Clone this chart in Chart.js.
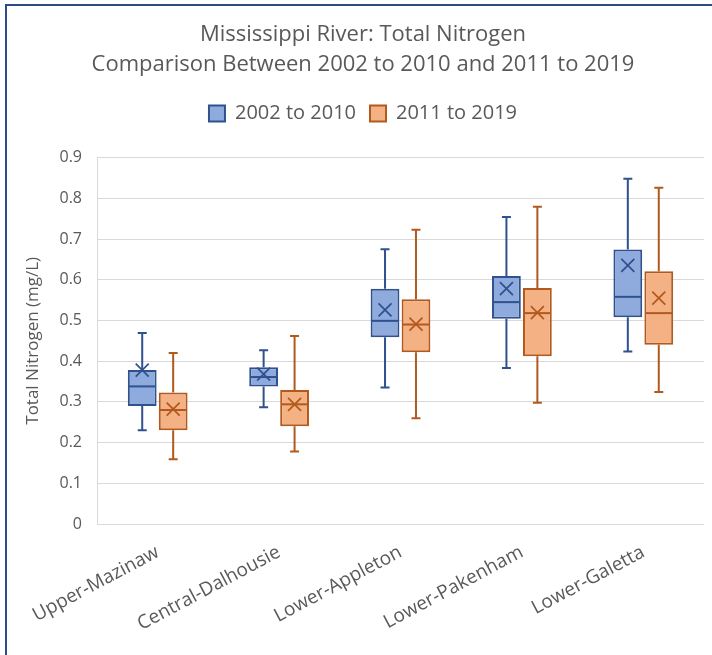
<!DOCTYPE html>
<html>
<head>
<meta charset="utf-8">
<script src="https://cdn.jsdelivr.net/npm/chart.js@4.4.1/dist/chart.umd.min.js"></script>
<style>
  html, body { margin: 0; padding: 0; background: #fff; }
  #wrap { position: absolute; left: 0; top: 0; width: 712px; height: 655px; overflow: hidden; }
  #frame { position: absolute; left: 5px; top: 4px; right: -4px; bottom: -4px;
           border-top: 2px solid #2f4b87; border-left: 2px solid #2f4b87; }
  canvas { position: absolute; left: 0; top: 0; }
</style>
</head>
<body>
<div id="wrap">
  <div id="frame"></div>
  <canvas id="boxChart" width="712" height="655"></canvas>
</div>
<script>
// sites along the river
const categories = ["Upper-Mazinaw", "Central-Dalhousie", "Lower-Appleton", "Lower-Pakenham", "Lower-Galetta"];
const seriesNames = ["2002 to 2010", "2011 to 2019"];
const yTicks = [0, 0.1, 0.2, 0.3, 0.4, 0.5, 0.6, 0.7, 0.8, 0.9];

// 2002 to 2010 (mg/L)
const minEarly  = [0.230, 0.287, 0.335, 0.383, 0.424];
const q1Early   = [0.290, 0.338, 0.459, 0.504, 0.508];
const medEarly  = [0.338, 0.361, 0.499, 0.545, 0.558];
const q3Early   = [0.378, 0.385, 0.578, 0.609, 0.674];
const maxEarly  = [0.469, 0.427, 0.675, 0.754, 0.848];
const meanEarly = [0.378, 0.368, 0.526, 0.578, 0.635];

// 2011 to 2019 (mg/L)
const minLate  = [0.159, 0.178, 0.260, 0.298, 0.324];
const q1Late   = [0.230, 0.240, 0.422, 0.412, 0.440];
const medLate  = [0.280, 0.294, 0.490, 0.518, 0.518];
const q3Late   = [0.323, 0.329, 0.552, 0.580, 0.621];
const maxLate  = [0.420, 0.462, 0.723, 0.779, 0.826];
const meanLate = [0.282, 0.294, 0.491, 0.519, 0.555];

const textColor = "#595959";
Chart.defaults.font.family = "'Open Sans', sans-serif";
Chart.defaults.color = textColor;

function makeSeries(label, q1, q3, stats, fill, line) {
  return {
    label,
    data: q1.map((v, i) => [v, q3[i]]),
    stats,
    backgroundColor: fill,
    borderColor: line,
    borderWidth: 2,
    borderSkipped: false,
    categoryPercentage: 0.51,
    barPercentage: 0.93
  };
}

// whiskers, median line and mean cross, placed with the chart's own scales
const boxMarks = {
  id: "boxMarks",
  beforeDatasetsDraw(chart) {
    const { ctx } = chart;
    const y = chart.scales.y;
    chart.data.datasets.forEach((ds, di) => {
      const meta = chart.getDatasetMeta(di);
      ctx.save();
      ctx.strokeStyle = ds.borderColor;
      ctx.lineWidth = 2;
      meta.data.forEach((bar, i) => {
        const s = ds.stats;
        const cap = 4.5;
        const pairs = [[s.q3[i], s.max[i]], [s.q1[i], s.min[i]]];
        pairs.forEach(([from, to]) => {
          const y0 = y.getPixelForValue(from), y1 = y.getPixelForValue(to);
          ctx.beginPath();
          ctx.moveTo(bar.x, y0);
          ctx.lineTo(bar.x, y1);
          ctx.moveTo(bar.x - cap, y1);
          ctx.lineTo(bar.x + cap, y1);
          ctx.stroke();
        });
      });
      ctx.restore();
    });
  },
  afterDatasetsDraw(chart) {
    const { ctx } = chart;
    const y = chart.scales.y;
    chart.data.datasets.forEach((ds, di) => {
      const meta = chart.getDatasetMeta(di);
      ctx.save();
      ctx.strokeStyle = ds.borderColor;
      meta.data.forEach((bar, i) => {
        const s = ds.stats;
        const half = bar.width / 2 - 1;
        const ym = y.getPixelForValue(s.med[i]);
        ctx.lineWidth = 2;
        ctx.beginPath();
        ctx.moveTo(bar.x - half, ym);
        ctx.lineTo(bar.x + half, ym);
        ctx.stroke();
        const yx = y.getPixelForValue(s.mean[i]);
        const r = 6.5;
        ctx.lineWidth = 1.75;
        ctx.beginPath();
        ctx.moveTo(bar.x - r, yx - r);
        ctx.lineTo(bar.x + r, yx + r);
        ctx.moveTo(bar.x - r, yx + r);
        ctx.lineTo(bar.x + r, yx - r);
        ctx.stroke();
      });
      ctx.restore();
    });
  }
};

// extra room under the legend, and title/legend centred a bit right like the original
const headerTweaks = {
  id: "headerTweaks",
  beforeInit(chart) {
    const fit = chart.legend.fit;
    chart.legend.fit = function () {
      fit.call(this);
      this.height += 24;
    };
  },
  afterLayout(chart) {
    [chart.titleBlock, chart.legend].forEach(b => {
      if (!b) return;
      b.left += 7;
      b.right += 7;
    });
  }
};

new Chart(document.getElementById("boxChart"), {
  type: "bar",
  data: {
    labels: categories,
    datasets: [
      makeSeries(seriesNames[0], q1Early, q3Early,
        { min: minEarly, q1: q1Early, med: medEarly, q3: q3Early, max: maxEarly, mean: meanEarly },
        "#8faadc", "#2f528f"),
      makeSeries(seriesNames[1], q1Late, q3Late,
        { min: minLate, q1: q1Late, med: medLate, q3: q3Late, max: maxLate, mean: meanLate },
        "#f4b183", "#b25a1e")
    ]
  },
  options: {
    responsive: false,
    animation: false,
    layout: { padding: { top: 5, left: 8, right: 8, bottom: 0 } },
    plugins: {
      title: {
        display: true,
        text: ["Mississippi River: Total Nitrogen", "Comparison Between 2002 to 2010 and 2011 to 2019"],
        color: textColor,
        font: { size: 22, weight: "normal", lineHeight: 1.4 },
        padding: { top: 14, bottom: 9 }
      },
      legend: {
        labels: {
          boxWidth: 16,
          boxHeight: 16,
          padding: 14,
          color: textColor,
          font: { size: 20 }
        }
      },
      tooltip: { enabled: false }
    },
    scales: {
      x: {
        grid: { display: false },
        border: { display: false },
        ticks: {
          color: textColor,
          font: { size: 19 },
          minRotation: 28,
          maxRotation: 28,
          padding: 9
        },
        afterFit: s => { s.height = 131; }
      },
      y: {
        min: 0,
        max: 0.9,
        afterBuildTicks: s => { s.ticks = yTicks.map(v => ({ value: v })); },
        ticks: {
          color: textColor,
          font: { size: 16 },
          padding: 15,
          callback: v => (v === 0 ? "0" : v.toFixed(1))
        },
        grid: { color: "#d9d9d9", drawTicks: false },
        border: { display: true, color: "#d9d9d9" },
        title: {
          display: true,
          text: "Total Nitrogen (mg/L)",
          color: textColor,
          font: { size: 17 },
          padding: { top: 15, bottom: 0 }
        },
        afterFit: s => { s.width = 89; }
      }
    }
  },
  plugins: [boxMarks, headerTweaks]
});
</script>
</body>
</html>
